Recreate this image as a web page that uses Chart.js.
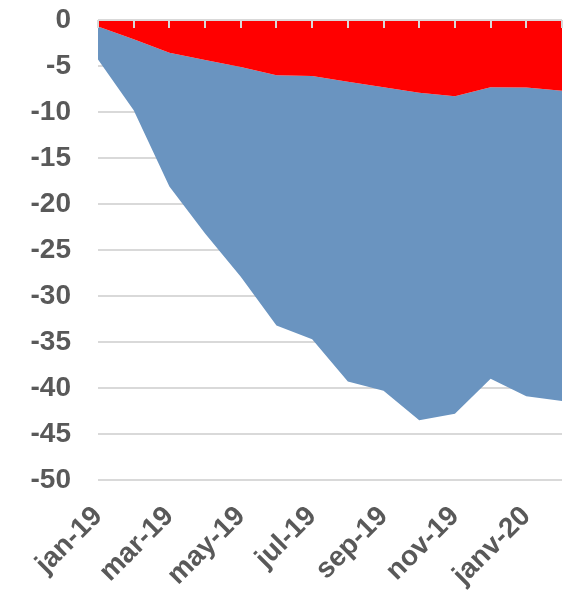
<!DOCTYPE html>
<html>
<head>
<meta charset="utf-8">
<script src="https://cdn.jsdelivr.net/npm/chart.js@4/dist/chart.umd.min.js"></script>
<style>
    html, body { margin: 0; padding: 0; background: #fff; }
    #wrap { width: 563px; height: 598px; }
</style>
</head>
<body>
<div id="wrap"><canvas id="area-chart"></canvas></div>
<script>
// months (only every other one is labelled on the axis)
var months = ["jan-19", "feb-19", "mar-19", "apr-19", "may-19", "jun-19", "jul-19",
    "aug-19", "sep-19", "oct-19", "nov-19", "dec-19", "janv-20", "feb-20"];

// stacked series
var redSeries = [-0.7, -2.1, -3.55, -4.35, -5.1, -6.0, -6.1, -6.7, -7.3, -7.9, -8.3, -7.3, -7.35, -7.7];
var blueSeries = [-3.6, -7.7, -14.55, -18.85, -22.8, -27.2, -28.6, -32.6, -33.0, -35.6, -34.5, -31.7, -33.55, -33.7];

var yMin = -50, yMax = 0, yStep = 5;

// zero line with small tick marks pointing down into the plot
var zeroAxis = {
    id: 'zeroAxis',
    afterDatasetsDraw: function (chart) {
        var ctx = chart.ctx, x = chart.scales.x, y = chart.scales.y;
        var y0 = y.getPixelForValue(0);
        ctx.save();
        ctx.strokeStyle = '#d9d9d9';
        ctx.lineWidth = 2;
        ctx.beginPath();
        ctx.moveTo(chart.chartArea.left, y0);
        ctx.lineTo(chart.chartArea.right, y0);
        ctx.stroke();
        for (var i = 0; i < months.length; i++) {
            var px = Math.round(x.getPixelForValue(i));
            ctx.beginPath();
            ctx.moveTo(px, y0);
            ctx.lineTo(px, y0 + 8);
            ctx.stroke();
        }
        ctx.restore();
    }
};

new Chart(document.getElementById("area-chart"), {
    type: 'line',
    data: {
        labels: months,
        datasets: [
            {
                data: redSeries,
                backgroundColor: '#ff0000',
                borderWidth: 0,
                pointRadius: 0,
                fill: 'origin'
            },
            {
                data: blueSeries,
                backgroundColor: '#6a94c0',
                borderWidth: 0,
                pointRadius: 0,
                fill: '-1'
            }
        ]
    },
    options: {
        responsive: true,
        maintainAspectRatio: false,
        animation: false,
        layout: { padding: { top: 20, right: 1, left: 0, bottom: 0 } },
        plugins: {
            legend: { display: false },
            tooltip: { enabled: false }
        },
        elements: { line: { tension: 0 } },
        scales: {
            x: {
                offset: false,
                grid: { display: false },
                border: { display: false },
                afterFit: function (s) {
                    s.height = 118;
                    s.paddingLeft = 0;
                    s.paddingRight = 0;
                },
                ticks: {
                    autoSkip: false,
                    maxRotation: 45,
                    minRotation: 45,
                    padding: 12,
                    color: '#595959',
                    font: { family: '"Liberation Sans", Arial, sans-serif', size: 28, weight: 'bold' },
                    callback: function (v, i) { return i % 2 === 0 ? months[i] : ''; }
                }
            },
            y: {
                stacked: true,
                min: yMin,
                max: yMax,
                border: { display: false },
                grid: { color: '#d9d9d9', lineWidth: 2, drawTicks: false },
                afterFit: function (s) {
                    s.width = 98;
                    s.paddingTop = 0;
                    s.paddingBottom = 0;
                },
                ticks: {
                    stepSize: yStep,
                    padding: 27,
                    color: '#595959',
                    font: { family: '"Liberation Sans", Arial, sans-serif', size: 28, weight: 'bold' }
                }
            }
        }
    },
    plugins: [zeroAxis]
});
</script>
</body>
</html>
